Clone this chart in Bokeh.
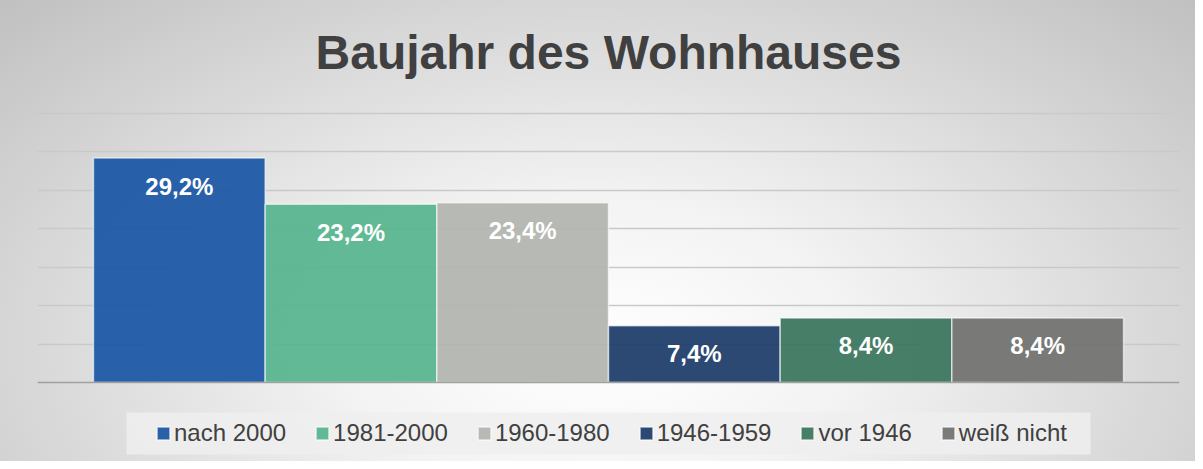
from bokeh.plotting import figure
from bokeh.models import ColumnDataSource, Grid, FixedTicker, Span, Label, Range1d, BoxAnnotation
from bokeh.core.properties import value
from bokeh.embed import file_html
from bokeh.resources import INLINE

title_text = "Baujahr des Wohnhauses"
categories = ["nach 2000", "1981-2000", "1960-1980", "1946-1959", "vor 1946", "weiß nicht"]
values = [29.2, 23.2, 23.4, 7.4, 8.4, 8.4]
value_labels = ["29,2%", "23,2%", "23,4%", "7,4%", "8,4%", "8,4%"]
colors = ["#1d59a5", "#58b68f", "#b3b5b1", "#213f6d", "#3d7760", "#737472"]
grid_ticks = [5, 10, 15, 20, 25, 30, 35]

src = ColumnDataSource(dict(
    x=list(range(len(categories))),
    top=values,
    cat=categories,
    lab=value_labels,
    color=colors,
))

W, H = 1195, 461
PX = 269 / 35.0          # pixels per percent
BW = 1142 / 6.652        # pixels per category
X0 = -0.826
def px_x(px):            # page pixel -> data x
    return X0 + (px - 37) / BW
def px_y(py):            # page pixel -> data y
    return (382 - py) / PX

p = figure(width=W, height=H, output_backend="svg", toolbar_location=None,
           x_axis_location=None, y_axis_location=None,
           x_range=Range1d(X0, 5 - X0),
           y_range=Range1d(px_y(H), px_y(0)),
           min_border_left=37, min_border_right=16, min_border_top=0, min_border_bottom=0)
p.background_fill_color = None
p.border_fill_color = None
p.outline_line_color = None
for g in p.grid:
    g.visible = False
p.styles = {"background": "radial-gradient(ellipse farthest-corner at 50% 75%, #ffffff 0%, #f3f3f3 30%, #c0c0c0 100%)"}

grid = Grid(dimension=1, ticker=FixedTicker(ticks=grid_ticks),
            grid_line_color="#c9c9c9", grid_line_width=1.5)
p.add_layout(grid)

legend_bg = BoxAnnotation(left=px_x(126), right=px_x(1090), top=px_y(412), bottom=px_y(454),
                          fill_color="#efefef", fill_alpha=0.85, line_color=None, level="underlay")
p.add_layout(legend_bg)

r = p.vbar(x="x", top="top", width=1.0, bottom=0, source=src,
           fill_color="color", fill_alpha=0.95,
           line_color="#ffffff", line_alpha=0.6, line_width=1.5,
           legend_field="cat")

p.add_layout(Span(location=0, dimension="width", line_color="#a0a0a0", line_width=1.5))

p.text(x="x", y="top", text="lab", source=src, text_color="#ffffff",
       text_font=value("Liberation Sans"), text_font_style="bold",
       text_font_size="24px", text_align="center", text_baseline="middle",
       y_offset=28)

p.add_layout(Label(x=2.5, y=px_y(52), text=title_text, text_align="center",
                   text_baseline="middle",
                   text_font="Liberation Sans", text_font_style="bold",
                   text_font_size="48px", text_color="#404040"))

leg = p.legend[0]
leg.orientation = "horizontal"
leg.location = (118, 14)
leg.glyph_width = 16
leg.glyph_height = 16
leg.label_standoff = 3
leg.spacing = 28
leg.padding = 8
leg.margin = 0
leg.label_text_font = "Liberation Sans"
leg.label_text_font_size = "24px"
leg.label_text_color = "#404040"
leg.background_fill_alpha = 0
leg.border_line_color = None

open("out.html", "w").write(file_html(p, INLINE))
